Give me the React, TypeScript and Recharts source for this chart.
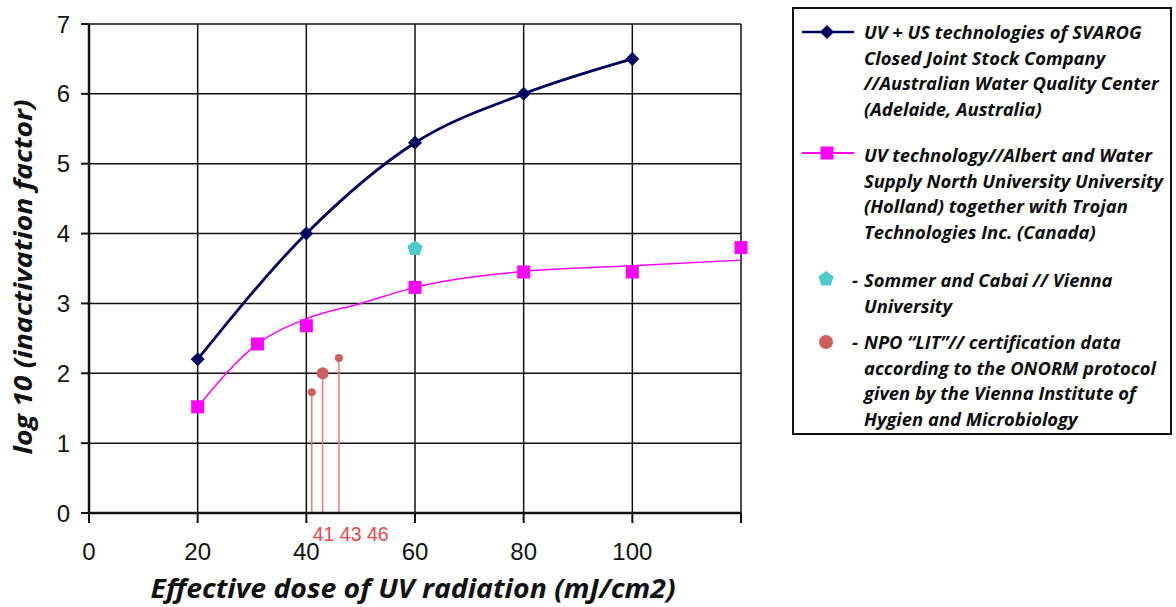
import React from "react";
import {
  CartesianGrid,
  ComposedChart,
  Label,
  Line,
  ReferenceLine,
  Scatter,
  XAxis,
  YAxis,
} from "recharts";

// UV + US (SVAROG / Australian Water Quality Center)
const svarogDose = [20, 40, 60, 80, 100];
const svarogLog = [2.2, 4.0, 5.3, 6.0, 6.5];

// UV technology (Holland + Trojan) measured points
const trojanDose = [20, 31, 40, 60, 80, 100, 120];
const trojanLog = [1.52, 2.42, 2.68, 3.23, 3.45, 3.45, 3.8];

// smooth trend curve through the pink points
const trendDose = [20, 31, 40, 50, 60, 80, 100, 120];
const trendLog = [1.52, 2.42, 2.78, 3.0, 3.23, 3.46, 3.54, 3.62];

// Sommer and Cabai // Vienna University
const viennaDose = [60];
const viennaLog = [3.8];

// NPO "LIT" certification data
const litDose = [41, 43, 46];
const litLog = [1.73, 2.0, 2.22];
const litLabels = ["41", "43", "46"];

const xTicks = [0, 20, 40, 60, 80, 100, 120];
const yTicks = [0, 1, 2, 3, 4, 5, 6, 7];

const xTitle = "Effective dose of UV radiation (mJ/cm2)";
const yTitle = "log 10 (inactivation factor)";

const legendSvarog = [
  "UV + US technologies of SVAROG",
  "Closed Joint Stock Company",
  "//Australian Water Quality Center",
  "(Adelaide, Australia)",
];
const legendTrojan = [
  "UV technology//Albert and Water",
  "Supply North University University",
  "(Holland) together with Trojan",
  "Technologies Inc. (Canada)",
];
const legendVienna = ["Sommer and Cabai //  Vienna", "University"];
const legendLit = [
  "NPO \u201cLIT\u201d// certification data",
  "according to the ONORM protocol",
  "given by the Vienna Institute of",
  "Hygien and Microbiology",
];

const NAVY = "#00005e";
const PINK = "#ff00ff";
const CYAN = "#4fc9c9";
const RED_DOT = "#cd5f5f";
const RED_LINE = "#f07a7a";
const RED_TEXT = "#e8474a";

const TITLE_FONT = "'Open Sans', Lato, sans-serif";
const TICK_FONT = "'Liberation Sans', Arial, sans-serif";

const zip = (xs: number[], ys: number[]) => xs.map((d, i) => ({ dose: d, log: ys[i] }));

const svarogData = zip(svarogDose, svarogLog);
const trojanData = zip(trojanDose, trojanLog);
const trendData = zip(trendDose, trendLog);
const viennaData = zip(viennaDose, viennaLog);
const litData = zip(litDose, litLog);

const pentagon = (cx: number, cy: number, r: number) =>
  Array.from({ length: 5 }, (_, i) => {
    const a = -Math.PI / 2 + (i * 2 * Math.PI) / 5;
    return `${cx + r * Math.cos(a)},${cy + r * Math.sin(a)}`;
  }).join(" ");

const Diamond = (props: any) => {
  const { cx, cy, index } = props;
  if (cx == null || cy == null) return null;
  const s = 7;
  return (
    <path
      key={`d-${index}`}
      d={`M${cx},${cy - s}L${cx + s},${cy}L${cx},${cy + s}L${cx - s},${cy}Z`}
      fill={NAVY}
    />
  );
};

const Square = (props: any) => {
  const { cx, cy } = props;
  return <rect x={cx - 6.5} y={cy - 6.5} width={13} height={13} fill={PINK} />;
};

const Pentagon = (props: any) => {
  const { cx, cy } = props;
  return <polygon points={pentagon(cx, cy + 1, 8)} fill={CYAN} />;
};

const LitDot = (props: any) => {
  const { cx, cy, payload } = props;
  return <circle cx={cx} cy={cy} r={payload.dose === 43 ? 6 : 4} fill={RED_DOT} />;
};

const legendText: React.CSSProperties = {
  position: "absolute",
  fontFamily: TITLE_FONT,
  fontWeight: 700,
  fontStyle: "italic",
  fontSize: 18.4,
  lineHeight: "25.7px",
  color: "#0d0d0d",
  whiteSpace: "nowrap",
};

function Legend() {
  const block = (lines: string[], top: number, dash: boolean) => (
    <div style={{ ...legendText, left: 862 - 792, top: top - 7 - 13 }}>
      {lines.map((t, i) => (
        <div key={t} style={{ position: "relative" }}>
          {dash && i === 0 && <span style={{ position: "absolute", left: -12 }}>-</span>}
          {t}
        </div>
      ))}
    </div>
  );
  return (
    <div
      style={{
        position: "absolute",
        left: 792,
        top: 7,
        width: 376,
        height: 424,
        border: "2.5px solid #111",
      }}
    >
      <svg width={380} height={428} style={{ position: "absolute", left: -2.5, top: -2.5 }}>
        <line x1={10} x2={62} y1={25} y2={25} stroke={NAVY} strokeWidth={2.5} />
        <path d="M35,18L42,25L35,32L28,25Z" fill={NAVY} />
        <line x1={10} x2={62} y1={146} y2={146} stroke={PINK} strokeWidth={2} />
        <rect x={28.5} y={139.5} width={13} height={13} fill={PINK} />
        <polygon points={pentagon(34, 272, 8)} fill={CYAN} />
        <circle cx={34} cy={335} r={7} fill={RED_DOT} />
      </svg>
      {block(legendSvarog, 30, false)}
      {block(legendTrojan, 153, false)}
      {block(legendVienna, 278, true)}
      {block(legendLit, 340, true)}
    </div>
  );
}

export default function App() {
  return (
    <div style={{ position: "relative", width: 1176, height: 607, background: "#fff" }}>
      <style>{`body{margin:0}`}</style>
      <ComposedChart width={760} height={607} margin={{ top: 24, right: 19, left: 0, bottom: 0 }}>
        <CartesianGrid stroke="#111" strokeWidth={1.5} />
        <XAxis
          dataKey="dose"
          type="number"
          domain={[0, 120]}
          ticks={xTicks}
          interval={0}
          height={94}
          allowDuplicatedCategory={false}
          tickFormatter={(v: number) => (v === 120 ? "" : String(v))}
          tick={{ fill: "#111", fontSize: 24, fontFamily: TICK_FONT }}
          tickSize={10}
          tickMargin={20}
          axisLine={{ stroke: "#111", strokeWidth: 2.5 }}
          tickLine={{ stroke: "#111", strokeWidth: 2 }}
        >
          <Label
            content={({ viewBox }: any) => (
              <text
                x={viewBox.x + viewBox.width / 2 - 2}
                y={viewBox.y + 85}
                textAnchor="middle"
                fontFamily={TITLE_FONT}
                fontWeight={700}
                fontStyle="italic"
                fontSize={27}
                textLength={525}
                lengthAdjust="spacingAndGlyphs"
                fill="#111"
              >
                {xTitle}
              </text>
            )}
          />
        </XAxis>
        <YAxis
          type="number"
          domain={[0, 7]}
          ticks={yTicks}
          interval={0}
          width={89}
          tick={{ fill: "#111", fontSize: 24, fontFamily: TICK_FONT }}
          tickSize={8}
          tickMargin={11}
          axisLine={{ stroke: "#111", strokeWidth: 2.5 }}
          tickLine={{ stroke: "#111", strokeWidth: 2 }}
        >
          <Label
            content={({ viewBox }: any) => {
              const x = viewBox.x + 32;
              const y = viewBox.y + 253;
              return (
                <text
                  x={x}
                  y={y}
                  transform={`rotate(-90, ${x}, ${y})`}
                  textAnchor="middle"
                  fontFamily={TITLE_FONT}
                  fontWeight={700}
                  fontStyle="italic"
                  fontSize={25}
                  textLength={355}
                  lengthAdjust="spacingAndGlyphs"
                  fill="#111"
                >
                  {yTitle}
                </text>
              );
            }}
          />
        </YAxis>

        {litData.map((p, i) => (
          <ReferenceLine
            key={p.dose}
            segment={[
              { x: p.dose, y: 0 },
              { x: p.dose, y: p.log },
            ]}
            stroke={RED_LINE}
            strokeWidth={1.5}
            label={
              i === 0
                ? {
                    content: ({ viewBox }: any) => (
                      <text
                        x={viewBox.x + 1}
                        y={viewBox.y + viewBox.height + 28}
                        textAnchor="start"
                        fontFamily={TICK_FONT}
                        fontSize={19.5}
                        fill={RED_TEXT}
                      >
                        {litLabels.join(" ")}
                      </text>
                    ),
                  }
                : undefined
            }
          />
        ))}

        <Line
          data={trendData}
          dataKey="log"
          type="monotone"
          stroke={PINK}
          strokeWidth={1.5}
          dot={false}
          activeDot={false}
          isAnimationActive={false}
        />
        <Line
          data={svarogData}
          dataKey="log"
          type="monotone"
          stroke={NAVY}
          strokeWidth={2.8}
          dot={<Diamond />}
          activeDot={false}
          isAnimationActive={false}
        />
        <Scatter data={trojanData} dataKey="log" shape={<Square />} isAnimationActive={false} />
        <Scatter data={viennaData} dataKey="log" shape={<Pentagon />} isAnimationActive={false} />
        <Scatter data={litData} dataKey="log" shape={<LitDot />} isAnimationActive={false} />
      </ComposedChart>
      <Legend />
    </div>
  );
}
